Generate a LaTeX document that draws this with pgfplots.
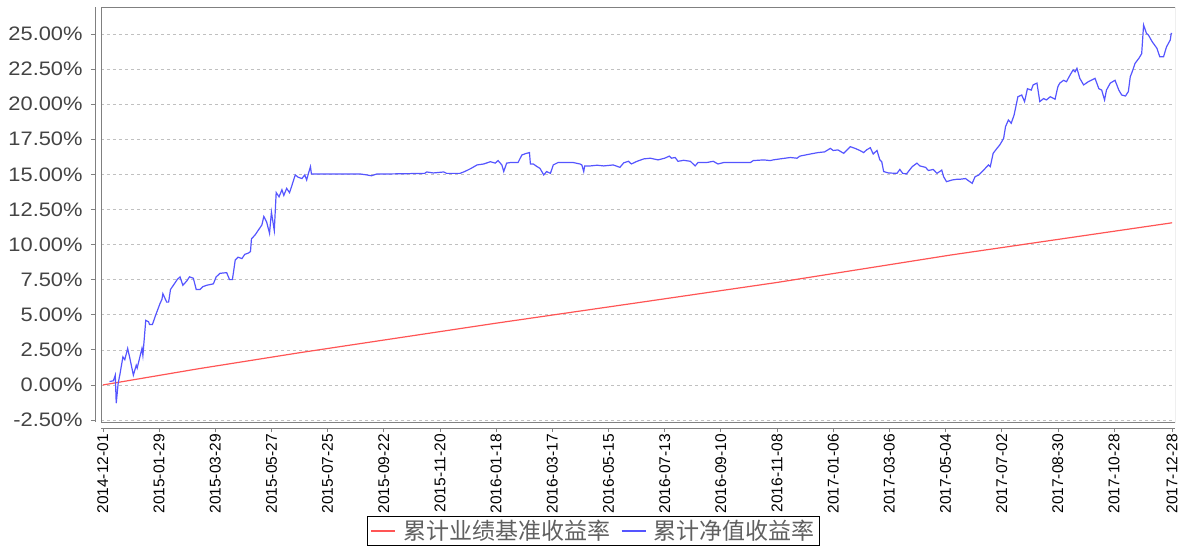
\documentclass[border=0pt]{standalone}
\usepackage{fontspec}
\setmainfont{Liberation Sans}
\newfontfamily\cjk{Noto Sans CJK SC}
\usepackage{pgfplots}
\pgfplotsset{compat=1.18}

\definecolor{bench}{RGB}{255,85,85}
\definecolor{nav}{RGB}{85,85,255}
\definecolor{gridc}{RGB}{192,192,192}
\definecolor{axc}{RGB}{128,128,128}
\definecolor{labc}{RGB}{68,68,68}
\definecolor{legc}{RGB}{96,96,96}

\begin{document}
\begin{tikzpicture}
\begin{axis}[
    scale only axis,
    width=1074pt, height=415pt,
    xmin=-2, xmax=1126,
    ymin=-2.64, ymax=26.92,
    axis lines*=left,
    axis line style={axc, line width=0.8pt, -},
    axis x line shift=6pt,
    axis y line shift=6pt,
    tick align=outside,
    major tick length=4pt,
    tick style={axc, line width=0.8pt},
    ymajorgrids,
    grid style={gridc, dash pattern=on 3pt off 3pt, line width=0.6pt},
    ytick={-2.5,0,2.5,5,7.5,10,12.5,15,17.5,20,22.5,25},
    /pgf/number format/assume math mode=true,
    yticklabel={\pgfmathprintnumber[fixed,fixed zerofill,precision=2]{\tick}\%},
    yticklabel style={font=\fontsize{19.5}{19.5}\selectfont, text=labc, xscale=1.12, xshift=-4pt},
    xtick={0,59,118,177,236,295,354,413,472,531,590,649,708,767,826,885,944,1003,1062,1123},
    xticklabels={2014-12-01,2015-01-29,2015-03-29,2015-05-27,2015-07-25,2015-09-22,2015-11-20,2016-01-18,2016-03-17,2016-05-15,2016-07-13,2016-09-10,2016-11-08,2017-01-06,2017-03-06,2017-05-04,2017-07-02,2017-08-30,2017-10-28,2017-12-28},
    xticklabel style={font=\fontsize{15.5}{15.5}\selectfont, text=black, rotate=90, anchor=east, inner sep=2pt},
    legend columns=-1,
    legend style={at={(axis description cs:0.4586,-0.2265)}, anchor=north,
        draw=black, line width=0.8pt, font=\cjk\fontsize{23}{23}\selectfont,
        inner xsep=3pt, inner ysep=2pt,
        /tikz/every odd column/.append style={column sep=5pt},
        /tikz/every even column/.append style={column sep=9pt}},
]
\coordinate (bl) at (rel axis cs:0,0);
\coordinate (tr) at (rel axis cs:1,1);
\draw[axc, line width=0.8pt] (rel axis cs:0,0) rectangle (rel axis cs:1,1);

\addplot[color=bench, line width=1.2pt,
  legend image code/.code={\draw[bench, line width=1.3pt] (0pt,0pt) -- (24pt,0pt);}] coordinates {
(0,0) (100,1.15) (207,2.3) (413,4.4) (561,5.85) (708,7.3) (890,9.25) (1123,11.55)
};
\addlegendentry{\textcolor{legc}{累计业绩基准收益率}}

\addplot[color=nav, line width=1.2pt,
  legend image code/.code={\draw[nav, line width=1.3pt] (0pt,0pt) -- (24pt,0pt);}] coordinates {
(7,0.24) (11,0.3) (13,0.7) (14,-1.3) (16,0.1) (18,0.8) (21,2.0) (23,1.8) (26,2.6) (28,2.0)
(32,0.7) (35,1.4) (36,1.2) (41,2.6) (42,2.1) (45,4.6) (48,4.5) (49,4.3) (52,4.3) (55,4.9)
(60,5.8) (62,6.1) (63,6.5) (67,5.9) (69,5.9) (71,6.8) (74,7.1) (78,7.5) (81,7.7) (84,7.1)
(88,7.4) (91,7.7) (95,7.6) (98,6.8) (102,6.8) (105,7.0) (109,7.1) (116,7.2) (119,7.7) (123,7.95)
(130,8.0) (133,7.5) (136,7.5) (139,8.9) (142,9.1) (146,9.0) (149,9.3) (153,9.4) (155,9.5) (156,10.4)
(160,10.7) (163,11.0) (167,11.4) (169,12.0) (172,11.6) (175,10.8) (177,12.3) (180,11.0) (182,13.7) (185,13.4)
(188,13.9) (190,13.5) (193,14.0) (196,13.7) (198,14.1) (202,14.96) (205,14.8) (209,14.7) (212,14.96) (214,14.6)
(216,15.1) (218,15.55) (219,15.03) (225,15.03) (270,15.03) (277,14.96) (282,14.9) (288,15.03) (302,15.03) (338,15.07)
(340,15.17) (347,15.1) (358,15.17) (361,15.07) (375,15.07) (380,15.2) (386,15.4) (393,15.67) (400,15.74) (407,15.9)
(412,15.8) (415,15.98) (419,15.67) (421,15.2) (424,15.8) (428,15.84) (436,15.84) (440,16.38) (445,16.5) (448,16.55)
(449,15.74) (452,15.74) (456,15.55) (459,15.43) (463,14.96) (466,15.2) (470,15.07) (473,15.67) (478,15.84) (494,15.84)
(501,15.74) (503,15.67) (505,15.2) (506,15.6) (512,15.6) (519,15.65) (526,15.6) (536,15.67) (543,15.5) (547,15.82)
(552,15.93) (555,15.74) (561,15.93) (568,16.1) (575,16.15) (583,16.03) (590,16.15) (595,16.3) (597,16.15) (601,16.2)
(604,15.93) (610,16.0) (617,15.93) (622,15.6) (625,15.84) (634,15.84) (641,15.93) (646,15.74) (652,15.84) (680,15.84)
(683,15.98) (694,16.03) (701,15.98) (704,16.03) (711,16.1) (722,16.2) (729,16.15) (732,16.3) (743,16.45) (751,16.55)
(758,16.6) (764,16.85) (767,16.7) (772,16.74) (778,16.5) (785,16.97) (790,16.85) (795,16.7) (799,16.55) (802,16.74)
(806,16.9) (809,16.45) (813,16.7) (816,16.03) (818,15.9) (820,15.2) (825,15.1) (834,15.07) (837,15.35) (840,15.07)
(844,15.03) (850,15.55) (855,15.8) (858,15.6) (864,15.5) (867,15.27) (872,15.35) (876,15.07) (881,15.3) (883,14.83)
(886,14.48) (892,14.6) (897,14.65) (900,14.65) (906,14.7) (909,14.55) (913,14.36) (916,14.83) (920,14.96) (925,15.3)
(930,15.67) (932,15.55) (935,16.5) (939,16.85) (942,17.1) (946,17.56) (948,18.4) (951,18.87) (954,18.64) (957,19.23)
(961,20.53) (965,20.65) (968,20.18) (971,21.1) (975,21.0) (977,21.37) (981,21.5) (984,20.18) (988,20.4) (991,20.3)
(995,20.53) (1000,20.35) (1003,21.25) (1005,21.5) (1009,21.7) (1012,21.6) (1016,22.1) (1019,22.44) (1021,22.3) (1023,22.55)
(1026,21.84) (1030,21.37) (1035,21.6) (1042,21.84) (1046,21.1) (1049,21.0) (1052,20.3) (1054,21.0) (1058,21.5) (1063,21.7)
(1067,21.0) (1070,20.65) (1074,20.58) (1077,20.9) (1079,21.95) (1081,22.3) (1084,22.9) (1088,23.26) (1091,23.6) (1093,25.64)
(1096,25.04) (1098,24.93) (1102,24.45) (1107,23.98) (1110,23.38) (1114,23.38) (1117,24.07) (1121,24.57) (1122,25.04) (1123,25.04)
};
\addlegendentry{\textcolor{legc}{累计净值收益率}}
\end{axis}
\pgfresetboundingbox
\path ([shift={(-101pt,-128pt)}]bl) rectangle ([shift={(7pt,7pt)}]tr);
\end{tikzpicture}
\end{document}
